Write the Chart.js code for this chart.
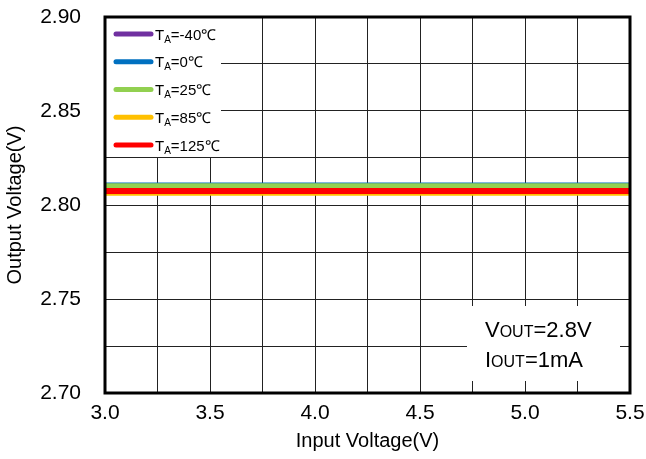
<!DOCTYPE html>
<html>
<head>
<meta charset="utf-8">
<script src="https://cdn.jsdelivr.net/npm/chart.js@4/dist/chart.umd.min.js"></script>
<style>
  html, body { margin: 0; padding: 0; background: #fff; }
  #wrap { width: 646px; height: 459px; }
</style>
</head>
<body>
<div id="wrap"><canvas id="ldoChart" width="646" height="459"></canvas></div>
<script>
// input voltage sweep (V)
const inputV = [3.0, 3.5, 4.0, 4.5, 5.0, 5.5];
// output voltage per temperature (V)
const vMinus40 = [2.8090, 2.8090, 2.8090, 2.8090, 2.8090, 2.8090];
const v0 = [2.8106, 2.8106, 2.8106, 2.8106, 2.8106, 2.8106];
const v25 = [2.8102, 2.8102, 2.8102, 2.8102, 2.8102, 2.8102];
const v85 = [2.8063, 2.8063, 2.8063, 2.8063, 2.8063, 2.8063];
const v125 = [2.8074, 2.8074, 2.8074, 2.8074, 2.8074, 2.8074];
const tempLabels = ['-40℃', '0℃', '25℃', '85℃', '125℃'];
const lineColours = ['#7030A0', '#0070C0', '#92D050', '#FFC000', '#FF0000'];

const FONT = '"Liberation Sans", Arial, sans-serif';
Chart.defaults.font.family = FONT;
Chart.defaults.color = '#000';

const toPoints = (ys) => ys.map((y, i) => ({ x: inputV[i], y }));
const series = [vMinus40, v0, v25, v85, v125];
// red on top, purple at the bottom
const drawOrder = [4, 3, 2, 1, 0];

const datasets = series.map((ys, i) => ({
  label: 'TA=' + tempLabels[i],
  data: toPoints(ys),
  borderColor: lineColours[i],
  backgroundColor: lineColours[i],
  borderWidth: i === 4 ? 6 : 5,
  pointRadius: 0,
  tension: 0,
  order: drawOrder[i]
}));

// the tick padding would otherwise push the plot area inwards
const noEdgePadding = (scale) => {
  scale.paddingTop = 0;
  scale.paddingBottom = 0;
  scale.paddingLeft = 0;
  scale.paddingRight = 0;
};

// legend, note box and frame drawn on top of the grid
const overlay = {
  id: 'overlay',
  afterDraw(chart) {
    const { ctx, chartArea: a } = chart;
    ctx.save();

    // legend box
    ctx.fillStyle = '#fff';
    ctx.fillRect(a.left, a.top, 116, 140);
    tempLabels.forEach((t, i) => {
      const cy = 34 + i * 27.75;
      ctx.strokeStyle = lineColours[i];
      ctx.lineWidth = 5;
      ctx.lineCap = 'round';
      ctx.beginPath();
      ctx.moveTo(116, cy);
      ctx.lineTo(151, cy);
      ctx.stroke();
      ctx.fillStyle = '#000';
      ctx.textBaseline = 'alphabetic';
      let x = 155;
      const base = cy + 5.5;
      ctx.font = '15px ' + FONT;
      ctx.fillText('T', x, base);
      x += ctx.measureText('T').width;
      ctx.font = '10px ' + FONT;
      ctx.fillText('A', x, base + 3);
      x += ctx.measureText('A').width;
      ctx.font = '15px ' + FONT;
      ctx.fillText('=' + t, x, base);
    });

    // note box
    ctx.fillStyle = '#fff';
    ctx.fillRect(467, 306, 153, 75);
    const note = [['V', '=2.8V', 337], ['I', '=1mA', 367]];
    note.forEach(([head, tail, base]) => {
      let x = 485;
      ctx.fillStyle = '#000';
      ctx.font = '22px ' + FONT;
      ctx.fillText(head, x, base);
      x += ctx.measureText(head).width;
      ctx.font = '16px ' + FONT;
      ctx.fillText('OUT', x, base);
      x += ctx.measureText('OUT').width;
      ctx.font = '22px ' + FONT;
      ctx.fillText(tail, x, base);
    });

    // plot frame
    ctx.strokeStyle = '#000';
    ctx.lineWidth = 3;
    ctx.strokeRect(a.left, a.top, a.right - a.left, a.bottom - a.top);
    ctx.restore();
  }
};

const ctx = document.getElementById('ldoChart').getContext('2d');
new Chart(ctx, {
  type: 'line',
  data: { datasets },
  options: {
    responsive: false,
    animation: false,
    devicePixelRatio: 1,
    layout: { padding: { left: 0, right: 16, top: 17, bottom: 0 } },
    plugins: {
      legend: { display: false },
      tooltip: { enabled: false }
    },
    scales: {
      x: {
        type: 'linear',
        min: 3.0,
        max: 5.5,
        afterFit: (scale) => { scale.height = 66; noEdgePadding(scale); },
        grid: { color: '#222', lineWidth: 1, drawTicks: false },
        border: { display: false },
        ticks: {
          stepSize: 0.25,
          autoSkip: false,
          maxRotation: 0,
          padding: 8,
          font: { size: 21 },
          callback: (v) => Math.round(v * 100) % 50 === 0 ? v.toFixed(1) : ''
        },
        title: {
          display: true,
          text: 'Input Voltage(V)',
          font: { size: 20 },
          padding: { top: 0, bottom: 6 }
        }
      },
      y: {
        min: 2.70,
        max: 2.90,
        afterFit: (scale) => { scale.width = 105; noEdgePadding(scale); },
        grid: { color: '#222', lineWidth: 1, drawTicks: false },
        border: { display: false },
        ticks: {
          stepSize: 0.025,
          autoSkip: false,
          padding: 24,
          font: { size: 21 },
          callback: (v) => Math.round(v * 1000) % 50 === 0 ? v.toFixed(2) : ''
        },
        title: {
          display: true,
          text: 'Output Voltage(V)',
          font: { size: 20 },
          padding: { top: 3, bottom: 0 }
        }
      }
    }
  },
  plugins: [overlay]
});
</script>
</body>
</html>
